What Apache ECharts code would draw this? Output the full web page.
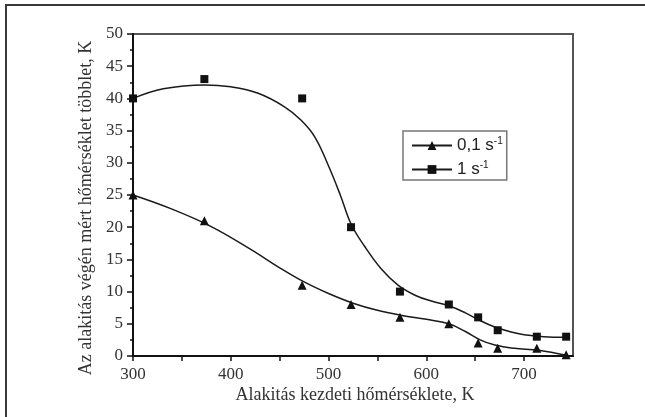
<!DOCTYPE html>
<html>
<head>
<meta charset="utf-8">
<script src="https://cdn.jsdelivr.net/npm/echarts@6/dist/echarts.min.js"></script>
<style>
  html, body { margin: 0; padding: 0; background: #fff; }
  #chart { width: 645px; height: 417px; }
</style>
</head>
<body>
<div id="chart"></div>
<script>
// measured points
const tempSlow = [300, 373, 473, 523, 573, 623, 653, 673, 713, 743]
const valSlow = [25, 21, 11, 8, 6, 5, 2, 1.2, 1.2, 0.2]
const tempFast = [300, 373, 473, 523, 573, 623, 653, 673, 713, 743]
const valFast = [40, 43, 40, 20, 10, 8, 6, 4, 3, 3]

// fitted curves
const fitSlowX = [300, 340, 380, 420, 450, 475, 500, 525, 550, 575, 600, 623, 640, 655, 670, 690, 715, 743]
const fitSlowY = [25, 22.8, 20.1, 16.6, 13.7, 11.5, 9.7, 8.2, 7.1, 6.3, 5.7, 5.0, 3.8, 2.5, 1.7, 1.2, 0.9, 0.1]
const fitFastX = [300, 331, 373, 400, 428, 455, 472, 486, 500, 512, 523, 537, 554, 571, 589, 606, 623, 640, 655, 670, 685, 700, 720, 743]
const fitFastY = [40, 41.5, 42.1, 41.8, 40.8, 38.7, 36.6, 34, 29.5, 25, 20.5, 17, 13.5, 11, 9.4, 8.5, 7.8, 6.7, 5.5, 4.5, 3.8, 3.3, 3.0, 2.9]

const seriesNames = ['0,1 s-1', '1 s-1']
const legendBase = ['0,1 s', '1 s']

const zip = (xs, ys) => xs.map((x, i) => [x, ys[i]])

const chart = echarts.init(document.getElementById('chart'))

const serif = 'Liberation Serif'
const ink = '#111'

const option = {
  backgroundColor: '#fff',
  animation: false,
  grid: {
    left: 133,
    top: 34,
    right: 72,
    bottom: 61,
    show: true,
    borderColor: '#555',
    borderWidth: 2,
    backgroundColor: 'transparent'
  },
  xAxis: {
    type: 'value',
    min: 300,
    max: 750,
    interval: 50,
    splitLine: { show: false },
    axisLine: { lineStyle: { color: '#111', width: 2 } },
    axisTick: { length: 5, lineStyle: { color: '#111', width: 1.5 } },
    axisLabel: {
      margin: 10,
      color: '#333',
      fontFamily: serif,
      fontSize: 17,
      showMaxLabel: false,
      formatter: v => (v % 100 === 0 ? String(v) : '')
    }
  },
  yAxis: {
    type: 'value',
    min: 0,
    max: 50,
    interval: 5,
    splitLine: { show: false },
    axisLine: { lineStyle: { color: '#111', width: 2 } },
    axisTick: { length: 6, lineStyle: { color: '#111', width: 1.5 } },
    minorTick: { show: true, splitNumber: 2, length: 3, lineStyle: { color: '#111', width: 1.5 } },
    minorSplitLine: { show: false },
    axisLabel: { margin: 10, color: '#333', fontFamily: serif, fontSize: 17 }
  },
  legend: {
    orient: 'vertical',
    left: 403,
    top: 131,
    data: seriesNames,
    itemWidth: 40,
    itemHeight: 11,
    itemGap: 6,
    padding: [5, 4, 2, 8],
    borderColor: '#777',
    borderWidth: 1.5,
    borderRadius: 0,
    formatter: name => {
      const i = seriesNames.indexOf(name)
      return '{b|' + legendBase[i] + '}{sup|-1}'
    },
    textStyle: {
      rich: {
        b: { fontFamily: 'Liberation Sans', fontSize: 17, color: '#222' },
        sup: { fontFamily: 'Liberation Sans', fontSize: 10, color: '#222', padding: [0, 0, 9, 0] }
      }
    }
  },
  graphic: [
    {
      type: 'rect',
      shape: { x: 6, y: 5, width: 700, height: 500 },
      style: { fill: 'none', stroke: '#3a3a3a', lineWidth: 2 },
      silent: true
    },
    {
      type: 'text',
      x: 86,
      y: 208,
      rotation: Math.PI / 2,
      style: {
        text: 'Az alakitás végén mért hőmérséklet többlet, K',
        fontFamily: serif,
        fontSize: 18,
        fill: '#333',
        align: 'center',
        verticalAlign: 'middle'
      }
    },
    {
      type: 'text',
      x: 355,
      y: 395,
      style: {
        text: 'Alakitás kezdeti hőmérséklete, K',
        fontFamily: serif,
        fontSize: 18,
        fill: '#333',
        align: 'center',
        verticalAlign: 'middle'
      }
    }
  ],
  series: [
    {
      name: seriesNames[0],
      type: 'line',
      data: zip(fitSlowX, fitSlowY),
      smooth: 0.4,
      showSymbol: false,
      symbol: 'triangle',
      symbolSize: 9,
      lineStyle: { color: '#1a1a1a', width: 1.5 },
      itemStyle: { color: ink }
    },
    {
      name: seriesNames[1],
      type: 'line',
      data: zip(fitFastX, fitFastY),
      smooth: 0.4,
      showSymbol: false,
      symbol: 'rect',
      symbolSize: 8,
      lineStyle: { color: '#1a1a1a', width: 1.5 },
      itemStyle: { color: ink }
    },
    {
      name: 'slowPoints',
      type: 'scatter',
      data: zip(tempSlow, valSlow),
      symbol: 'triangle',
      symbolSize: 9,
      itemStyle: { color: ink, opacity: 1 },
      z: 3
    },
    {
      name: 'fastPoints',
      type: 'scatter',
      data: zip(tempFast, valFast),
      symbol: 'rect',
      symbolSize: 8,
      itemStyle: { color: ink, opacity: 1 },
      z: 3
    }
  ]
}

chart.setOption(option)
</script>
</body>
</html>
